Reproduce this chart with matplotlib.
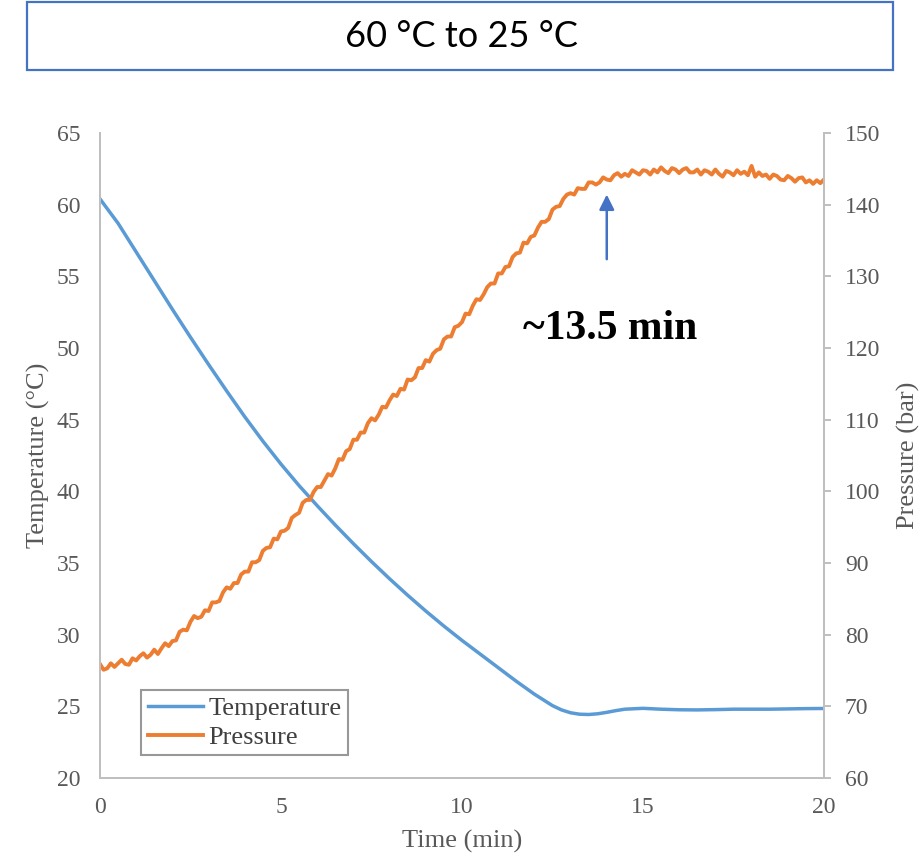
"""
Cooling run 60 °C -> 25 °C: temperature and pressure vs time.
"""
import numpy as np
import matplotlib.pyplot as plt
from matplotlib.patches import Rectangle

# temperature trace (smooth thermocouple reading)
temp_time = [0.0, 0.5, 1.0, 1.5, 2.0, 2.5, 3.0, 3.5, 4.0, 4.5, 5.0, 5.5, 6.0, 6.5,
             7.0, 7.5, 8.0, 8.5, 9.0, 9.5, 10.0, 10.5, 11.0, 11.5, 12.0, 12.5,
             12.75, 13.0, 13.25, 13.5, 13.75, 14.0, 14.25, 14.5, 15.0, 15.5, 16.0,
             16.5, 17.0, 17.5, 18.0, 18.5, 19.0, 19.5, 20.0]
temperature = [60.4, 58.7, 56.7, 54.7, 52.7, 50.75, 48.85, 47.0, 45.2, 43.5, 41.9,
               40.4, 39.0, 37.65, 36.35, 35.1, 33.9, 32.75, 31.65, 30.6, 29.6, 28.65,
               27.7, 26.75, 25.85, 25.05, 24.75, 24.55, 24.45, 24.43, 24.48, 24.58,
               24.7, 24.8, 24.86, 24.8, 24.76, 24.75, 24.77, 24.8, 24.8, 24.8, 24.82,
               24.84, 24.85]

# pressure transducer, logged every 0.1 min
pressure = [
    75.9, 75.1, 75.3, 76.0, 75.5, 76.0, 76.5, 75.9, 75.8, 76.7,
    76.4, 77.0, 77.4, 76.8, 77.2, 77.9, 77.3, 78.1, 78.8, 78.4,
    79.1, 79.2, 80.4, 80.7, 80.6, 81.8, 82.6, 82.3, 82.5, 83.4,
    83.3, 84.5, 84.5, 84.7, 85.9, 86.6, 86.4, 87.2, 87.2, 88.4,
    88.8, 88.8, 90.1, 90.1, 90.4, 91.7, 92.1, 92.2, 93.4, 93.3,
    94.4, 94.5, 94.9, 96.3, 96.7, 97.0, 98.4, 98.8, 98.8, 99.9,
    100.6, 100.6, 101.5, 102.4, 102.2, 103.2, 104.5, 104.4, 105.6, 105.9,
    107.2, 107.2, 108.2, 108.2, 109.5, 110.2, 109.9, 110.7, 111.8, 111.7,
    112.7, 113.5, 113.3, 114.3, 114.2, 115.6, 115.5, 115.9, 117.2, 117.2,
    118.3, 118.1, 119.2, 119.7, 119.9, 121.2, 121.6, 121.6, 122.9, 123.1,
    123.6, 124.8, 124.7, 125.9, 126.8, 126.7, 127.5, 128.5, 129.0, 129.0,
    130.4, 130.4, 131.3, 131.4, 132.7, 133.2, 133.3, 134.7, 134.6, 135.5,
    135.7, 136.8, 137.6, 137.6, 138.0, 139.3, 139.7, 139.8, 140.8, 141.4,
    141.6, 141.4, 142.3, 142.2, 142.2, 143.1, 143.1, 142.8, 143.1, 143.8,
    143.5, 143.4, 144.1, 144.4, 143.9, 144.3, 144.0, 144.8, 144.5, 144.2,
    144.8, 144.7, 144.2, 144.9, 144.5, 145.2, 144.7, 144.4, 145.1, 144.9,
    144.4, 144.9, 145.1, 144.5, 144.5, 144.9, 144.2, 144.8, 144.6, 144.2,
    144.9, 144.3, 143.9, 144.7, 144.5, 144.1, 144.8, 144.3, 144.6, 144.1,
    145.4, 143.9, 144.5, 144.0, 144.2, 143.6, 144.2, 144.0, 143.5, 143.4,
    144.0, 143.7, 143.2, 143.7, 143.8, 143.1, 143.4, 142.9, 143.4, 143.0,
    143.5,
]
pressure_time = np.linspace(0, 20, len(pressure))

title = "60 °C to 25 °C"
marker_time = 14.0
marker_label = "~13.5 min"

blue = "#5b9bd5"
orange = "#ed7d31"
axis_grey = "#bfbfbf"
text_grey = "#595959"

plt.rcParams["font.family"] = ["Liberation Serif", "DejaVu Serif"]

fig = plt.figure(figsize=(9.23, 8.59), dpi=100)
ax = fig.add_axes([0.1083, 0.0943, 0.7844, 0.7509])
ax2 = ax.twinx()

l1, = ax.plot(temp_time, temperature, color=blue, lw=2.5, label="Temperature",
              solid_joinstyle="round")
l2, = ax2.plot(pressure_time, pressure, color=orange, lw=2.8, label="Pressure")

ax.set_xlim(0, 20)
ax.set_ylim(20, 65)
ax2.set_ylim(60, 150)
ax.set_xticks([0, 5, 10, 15, 20])
ax.set_yticks(range(20, 66, 5))
ax2.set_yticks(range(60, 151, 10))

for a in (ax, ax2):
    for side in ("left", "right", "bottom"):
        a.spines[side].set_color(axis_grey)
        a.spines[side].set_linewidth(1.4)
    a.spines["top"].set_visible(False)

ax.tick_params(axis="x", length=0, pad=14, labelsize=17, labelcolor=text_grey)
ax.tick_params(axis="y", length=0, pad=14, labelsize=17, labelcolor=text_grey)
ax2.tick_params(axis="y", length=5, width=1.4, color=axis_grey, pad=10,
                labelsize=17, labelcolor=text_grey)

ax.set_xlabel("Time (min)", fontsize=19, color=text_grey, labelpad=8)
ax.set_ylabel("Temperature (°C)", fontsize=19, color=text_grey, labelpad=5)
ax2.set_ylabel("Pressure (bar)", fontsize=19, color=text_grey, labelpad=12)

# arrow pointing at the start of the pressure plateau
ax2.annotate("", xy=(marker_time, 141.8), xytext=(marker_time, 132.0),
             arrowprops=dict(arrowstyle="-|>,head_length=0.9,head_width=0.45",
                             color="#4472c4", lw=1.8))
ax2.text(marker_time + 0.1, 122.6, marker_label, ha="center", va="center",
         fontsize=30, fontweight="bold", color="black")

leg = ax.legend(handles=[l1, l2], loc="upper left", bbox_to_anchor=(0.0566, 0.1364),
                borderaxespad=0, fancybox=False, fontsize=19, handlelength=2.1,
                handletextpad=0.2, labelspacing=0.2, borderpad=0.25)
leg.get_frame().set_edgecolor("#7f7f7f")
leg.get_frame().set_linewidth(1.5)
for t in leg.get_texts():
    t.set_color("#404040")

# title box across the top
fig.patches.append(Rectangle((0.0293, 0.9185), 0.9382, 0.0792, transform=fig.transFigure,
                             fill=False, edgecolor="#4472c4", lw=1.6))
fig.text(0.5, 0.957, title, ha="center", va="center", fontsize=26,
         family=["Lato", "DejaVu Sans"], color="black")

fig.savefig("out.png", dpi=100)
plt.close(fig)
